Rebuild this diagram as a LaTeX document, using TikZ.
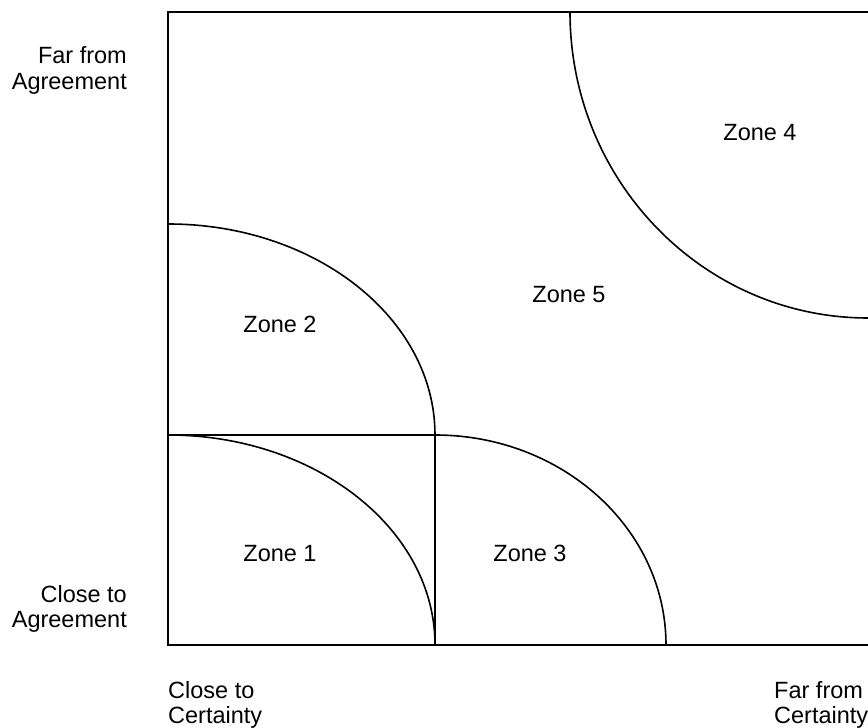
\documentclass[tikz,border=0pt]{standalone}
\usepackage{fontspec}
\setmainfont{Liberation Sans}
\begin{document}
\begin{tikzpicture}[x=1pt,y=1pt,
  line/.style={line width=1.6pt,black},
  lbl/.style={inner sep=0pt,font=\fontsize{23.5}{25.5}\selectfont},
  side/.style={lbl,align=right,anchor=east},
  foot/.style={lbl,align=left,anchor=west},
  zone/.style={lbl,anchor=base}]
\useasboundingbox (0,0) rectangle (868,728);
% frame corners
\coordinate (tl) at (168,716);
\coordinate (tr) at (868,716);
\coordinate (bl) at (168,83);
\coordinate (br) at (868,83);
\coordinate (ml) at (168,293);
\coordinate (mc) at (435,293);
\coordinate (bc) at (435,83);
\coordinate (z2s) at (168,504);
\coordinate (z4s) at (570,716);
% frame
\draw[line] (tr) -- (tl) -- (bl) -- (br);
\draw[line] (ml) -- (mc) -- (bc);
% arcs
\draw[line] (ml) arc[start angle=90,end angle=0,x radius=267,y radius=210];
\draw[line] (z2s) arc[start angle=90,end angle=0,x radius=267,y radius=211];
\draw[line] (mc) arc[start angle=90,end angle=0,x radius=231,y radius=210];
\draw[line] (z4s) arc[start angle=180,end angle=270,x radius=298,y radius=306];
% labels
\node[side] (farA) at (127,657.5) {Far from\\Agreement};
\node[side] (closeA) at (127,119) {Close to\\Agreement};
\node[foot] (closeC) at (168,23) {Close to\\Certainty};
\node[foot] (farC) at (774,23) {Far from\\Certainty};
\node[zone] (z1) at (280,166) {Zone 1};
\node[zone] (z2) at (280,395) {Zone 2};
\node[zone] (z3) at (530,166) {Zone 3};
\node[zone] (z4) at (760,587) {Zone 4};
\node[zone] (z5) at (569,425) {Zone 5};
\end{tikzpicture}
\end{document}
